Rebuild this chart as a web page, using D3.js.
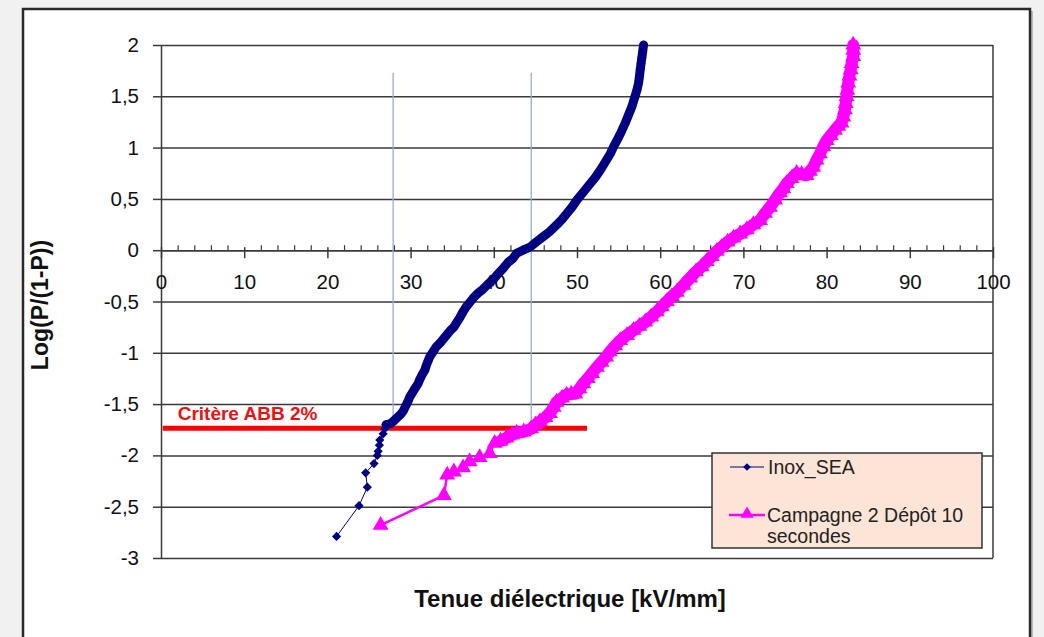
<!DOCTYPE html>
<html><head><meta charset="utf-8">
<script src="https://cdn.jsdelivr.net/npm/d3@7/dist/d3.min.js"></script>
<style>html,body{margin:0;padding:0;background:#f1f1f1;}svg{display:block;font-family:Arial,"Liberation Sans",sans-serif;}</style>
</head><body><svg id="c" width="1044" height="637"></svg>
<script>
const xTicks = [0,10,20,30,40,50,60,70,80,90,100];
const yTicks = [2,1.5,1,0.5,0,-0.5,-1,-1.5,-2,-2.5,-3];
const seriesNames = ["Inox_SEA","Campagne 2 Dépôt 10 secondes"];
const inoxX = [21.1,23.8,24.8,24.6,25.6,26.0,26.1,26.25,26.3,26.7,26.9,27.05,27.6,27.9,28.4,28.8,29.1,29.4,29.7,29.9,30.2,30.5,30.9,31.1,31.4,31.7,31.9,32.1,32.3,32.7,33.1,33.6,34.0,34.3,34.8,35.2,35.5,35.9,36.3,36.7,37.2,37.6,38.1,38.7,39.3,39.9,40.5,41.1,41.7,42.3,42.75,43.5,44.35,45.1,45.9,46.7,47.6,48.2,48.8,49.4,50.0,50.8,51.6,52.2,52.8,53.4,54.0,54.4,54.8,55.3,55.8,56.2,56.6,56.9,57.2,57.4,57.5,57.6,57.7,57.8,57.9,58.0];
const inoxY = [-2.79,-2.49,-2.31,-2.17,-2.08,-2.00,-1.96,-1.90,-1.85,-1.79,-1.74,-1.70,-1.69,-1.67,-1.63,-1.60,-1.57,-1.52,-1.47,-1.43,-1.39,-1.35,-1.30,-1.26,-1.21,-1.17,-1.12,-1.08,-1.04,-0.99,-0.94,-0.90,-0.86,-0.83,-0.78,-0.75,-0.71,-0.66,-0.60,-0.55,-0.50,-0.46,-0.42,-0.38,-0.33,-0.29,-0.23,-0.18,-0.12,-0.08,-0.03,0.00,0.03,0.08,0.13,0.18,0.25,0.30,0.36,0.42,0.49,0.57,0.65,0.71,0.78,0.86,0.94,1.01,1.07,1.15,1.24,1.32,1.40,1.48,1.56,1.63,1.69,1.76,1.82,1.88,1.94,2.00];
const campX = [26.4,34.0,34.4,35.2,36.3,37.1,38.3,39.5,40.1,40.8,41.5,42.2,42.75,43.6,44.5,45.0,45.55,46.2,46.75,47.2,47.55,48.2,48.75,49.3,49.8,50.3,50.75,51.3,51.8,52.4,52.95,53.5,53.95,54.6,55.2,56.0,56.8,57.5,58.2,58.9,59.6,60.2,60.8,61.4,62.0,62.8,63.6,64.3,65.0,65.6,66.2,66.8,67.4,68.1,68.8,69.6,70.4,71.2,72.0,72.6,73.2,73.8,74.4,74.8,75.2,75.8,76.4,77.0,77.6,78.0,78.4,78.8,79.2,79.6,80.0,80.5,81.0,81.4,81.8,82.0,82.2,82.3,82.4,82.5,82.6,82.75,82.9,83.0,83.2,83.2,83.2];
const campY = [-2.68,-2.39,-2.19,-2.16,-2.12,-2.06,-2.02,-1.98,-1.88,-1.86,-1.83,-1.80,-1.78,-1.77,-1.74,-1.70,-1.67,-1.63,-1.59,-1.53,-1.48,-1.44,-1.41,-1.40,-1.40,-1.35,-1.30,-1.25,-1.20,-1.14,-1.09,-1.04,-0.99,-0.93,-0.88,-0.83,-0.78,-0.74,-0.70,-0.65,-0.60,-0.55,-0.50,-0.45,-0.41,-0.34,-0.27,-0.21,-0.16,-0.11,-0.06,-0.01,0.03,0.08,0.12,0.16,0.20,0.25,0.29,0.36,0.42,0.49,0.56,0.60,0.65,0.70,0.75,0.74,0.73,0.77,0.81,0.88,0.94,1.01,1.07,1.12,1.17,1.21,1.24,1.30,1.37,1.43,1.50,1.56,1.63,1.70,1.76,1.82,1.89,1.95,2.00];
const critLabel = "Critère ABB 2%";
const critY = -1.735, critX = [0.2, 51.2];
const vLinesX = [27.9, 44.5];
const vLineTop = 1.73;
const xTitle = "Tenue diélectrique [kV/mm]";
const yTitle = "Log(P/(1-P))";

const svg = d3.select("#c");
svg.append("rect").attr("x",25).attr("y",11).attr("width",1008).attr("height",640).attr("fill","#bbb");
svg.append("rect").attr("x",23).attr("y",9).attr("width",1007).attr("height",640).attr("fill","#fff").attr("stroke","#2a2a2a").attr("stroke-width",2.5);

const x = d3.scaleLinear().domain([0,100]).range([161,993]);
const y = d3.scaleLinear().domain([-3,2]).range([558,45]);

const gy = svg.append("g").attr("transform","translate(161,0)")
  .call(d3.axisLeft(y).tickValues(yTicks).tickSize(-832).tickSizeOuter(0).tickPadding(0).tickFormat(""));
gy.select(".domain").remove();
gy.selectAll(".tick line").attr("stroke","#3a3a3a").attr("stroke-width",1.5);
svg.append("g").attr("transform","translate(161,0)")
  .call(d3.axisLeft(y).tickValues(yTicks).tickSize(8).tickSizeOuter(0).tickFormat(d=>String(d).replace(".",",")).tickPadding(14))
  .call(g=>{g.select(".domain").attr("stroke","#3a3a3a").attr("stroke-width",1.5);
            g.selectAll(".tick line").attr("stroke","#3a3a3a").attr("stroke-width",1.5);
            g.selectAll("text").attr("font-size",20.5).attr("fill","#111").attr("font-family","Arial, 'Liberation Sans', sans-serif");});
svg.append("line").attr("x1",x(100)).attr("x2",x(100)).attr("y1",y(2)).attr("y2",y(-3)).attr("stroke","#3a3a3a").attr("stroke-width",1.5);

const xMinor = d3.range(0,101,2).filter(v=>v%10!==0);
svg.append("g").attr("transform",`translate(0,${y(0)})`)
  .call(d3.axisTop(x).tickValues(xMinor).tickSize(5).tickFormat(""))
  .call(g=>{g.select(".domain").remove(); g.selectAll(".tick line").attr("stroke","#3a3a3a").attr("stroke-width",1.2);});
svg.append("g").attr("transform",`translate(0,${y(0)})`)
  .call(d3.axisBottom(x).tickValues(xTicks).tickSize(8).tickSizeOuter(0).tickPadding(16))
  .call(g=>{g.select(".domain").attr("stroke","#3a3a3a").attr("stroke-width",1.5);
            g.selectAll(".tick line").attr("stroke","#3a3a3a").attr("stroke-width",1.5).attr("y1",-3);
            g.selectAll("text").attr("font-size",20.5).attr("fill","#111").attr("font-family","Arial, 'Liberation Sans', sans-serif");});

vLinesX.forEach(v=>{
  svg.append("line").attr("x1",x(v)).attr("x2",x(v)).attr("y1",y(vLineTop)).attr("y2",y(critY))
    .attr("stroke","#8fb0d8").attr("stroke-width",1.3);
});

svg.append("line").attr("x1",x(critX[0])).attr("x2",x(critX[1])).attr("y1",y(critY)).attr("y2",y(critY))
  .attr("stroke","#ff0000").attr("stroke-width",5);
svg.append("text").attr("x",x(critX[0])+15).attr("y",y(critY)-8).text(critLabel)
  .attr("font-size",19).attr("font-weight","bold").attr("fill","#ee1111");

const inox = inoxX.map((v,i)=>[v,inoxY[i]]);
const camp = campX.map((v,i)=>[v,campY[i]]);
const line = d3.line().x(d=>x(d[0])).y(d=>y(d[1]));
const campDense = camp.filter(d=>d[1]>=-1.86);
const inoxDense = inox.filter(d=>d[1]>=-1.71);
// magenta
svg.append("path").datum(camp).attr("d",line).attr("fill","none").attr("stroke","#ff00ff").attr("stroke-width",2.5);
svg.append("path").datum(campDense).attr("d",line).attr("fill","none").attr("stroke","#ff00ff")
  .attr("stroke-width",12).attr("stroke-linecap","round").attr("stroke-linejoin","round");
svg.append("g").selectAll("path").data(camp).join("path")
  .attr("transform",d=>`translate(${x(d[0])},${y(d[1])})`)
  .attr("d",d3.symbol(d3.symbolTriangle,110)).attr("fill","#ff00ff");
// navy
svg.append("path").datum(inox).attr("d",line).attr("fill","none").attr("stroke","#000080").attr("stroke-width",1);
svg.append("path").datum(inoxDense).attr("d",line).attr("fill","none").attr("stroke","#000080")
  .attr("stroke-width",9).attr("stroke-linecap","round").attr("stroke-linejoin","round");
svg.append("g").selectAll("path").data(inox).join("path")
  .attr("transform",d=>`translate(${x(d[0])},${y(d[1])}) rotate(45)`)
  .attr("d",d3.symbol(d3.symbolSquare,42)).attr("fill","#000080");

const lg = svg.append("g");
lg.append("rect").attr("x",712).attr("y",453).attr("width",270).attr("height",95).attr("fill","#fce4d6").attr("stroke","#333").attr("stroke-width",1.5);
lg.append("line").attr("x1",730).attr("x2",764).attr("y1",467).attr("y2",467).attr("stroke","#000080").attr("stroke-width",1);
lg.append("path").attr("transform","translate(747,467) rotate(45)").attr("d",d3.symbol(d3.symbolSquare,30)).attr("fill","#000080");
lg.append("text").attr("x",768).attr("y",474).text(seriesNames[0]).attr("font-size",19.5).attr("fill","#222");
lg.append("line").attr("x1",729).attr("x2",765).attr("y1",515).attr("y2",515).attr("stroke","#ff00ff").attr("stroke-width",2.5);
lg.append("path").attr("transform","translate(747,514)").attr("d",d3.symbol(d3.symbolTriangle,75)).attr("fill","#ff00ff");
lg.append("text").attr("x",767).attr("y",522).text("Campagne 2 Dépôt 10").attr("font-size",19.5).attr("fill","#222");
lg.append("text").attr("x",767).attr("y",543).text("secondes").attr("font-size",19.5).attr("fill","#222");

svg.append("text").attr("x",570).attr("y",607).attr("text-anchor","middle").text(xTitle)
  .attr("font-size",24).attr("font-weight","bold").attr("fill","#111");
svg.append("text").attr("transform","translate(48,305) rotate(-90)").attr("text-anchor","middle").text(yTitle)
  .attr("font-size",23).attr("font-weight","bold").attr("fill","#111");
</script></body></html>
